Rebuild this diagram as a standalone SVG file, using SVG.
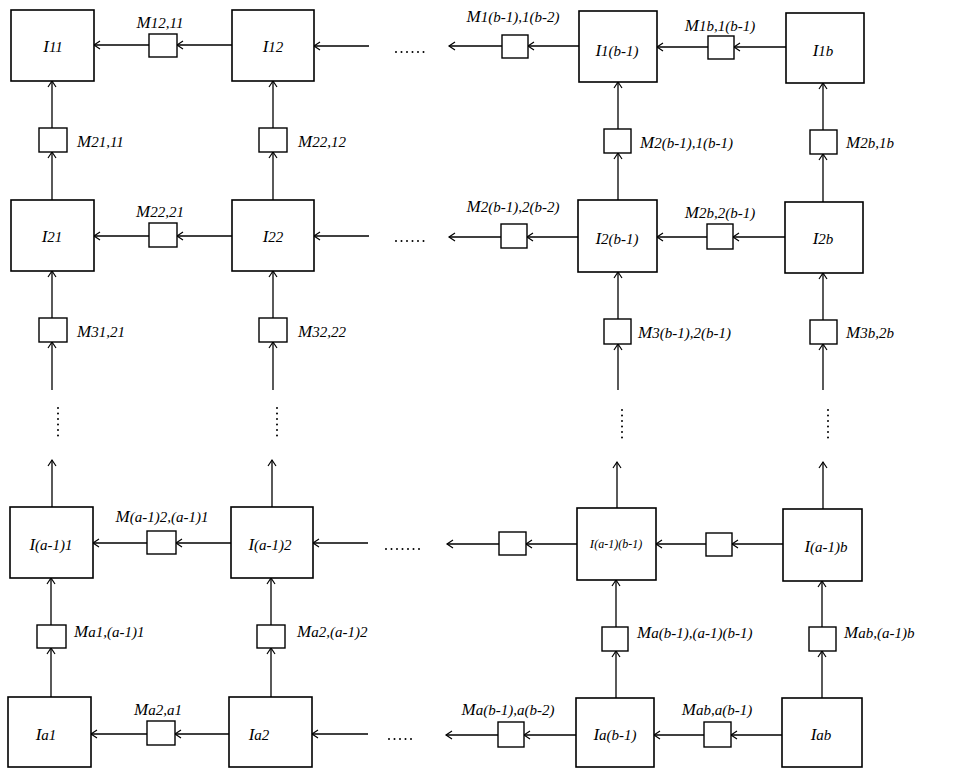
<svg xmlns="http://www.w3.org/2000/svg" width="953" height="769" viewBox="0 0 953 769">
<defs>
<marker id="arr" viewBox="-8 -5 10 10" refX="0" refY="0" markerWidth="10" markerHeight="10" markerUnits="userSpaceOnUse" orient="auto">
<path d="M-6,-4 L0,0 L-6,4" fill="none" stroke="#000" stroke-width="1.2"/>
</marker>
</defs>
<style>
.big{fill:#fff;stroke:#000;stroke-width:1.6}
.sm{fill:#fff;stroke:#000;stroke-width:1.4}
.c line{stroke:#000;stroke-width:1.3;marker-end:url(#arr)}
.c line.dot{stroke-width:2;stroke-linecap:round;stroke-dasharray:0 5.5;marker-end:none}
text{font-family:"Liberation Serif","Times New Roman",serif;font-style:italic;font-size:17px;fill:#000}
text.m{text-anchor:middle}
tspan.s{font-size:15px}
text.xs{font-size:13px}
text.xs tspan.s{font-size:12px}
</style>
<rect width="953" height="769" fill="#fff"/>
<g class="c" id="connectors">
<!-- row 1 -->
<line x1="232" y1="45" x2="177" y2="45"/>
<line x1="149" y1="45" x2="94" y2="45"/>
<line x1="369" y1="46" x2="314" y2="46"/>
<line class="dot" x1="396" y1="52" x2="424" y2="52"/>
<line x1="579" y1="46" x2="528" y2="46"/>
<line x1="502" y1="46" x2="449" y2="46"/>
<line x1="786" y1="47" x2="734" y2="47"/>
<line x1="708" y1="47" x2="657" y2="47"/>
<!-- row 2 -->
<line x1="232" y1="236" x2="177" y2="236"/>
<line x1="149" y1="236" x2="94" y2="236"/>
<line x1="369" y1="236" x2="314" y2="236"/>
<line class="dot" x1="396" y1="241" x2="424" y2="241"/>
<line x1="578" y1="237" x2="527" y2="237"/>
<line x1="501" y1="237" x2="449" y2="237"/>
<line x1="785" y1="237" x2="733" y2="237"/>
<line x1="707" y1="237" x2="657" y2="237"/>
<!-- row a-1 -->
<line x1="231" y1="543" x2="176" y2="543"/>
<line x1="147" y1="543" x2="93" y2="543"/>
<line x1="368" y1="543" x2="313" y2="543"/>
<line class="dot" x1="386" y1="549" x2="420" y2="549"/>
<line x1="577" y1="544" x2="526" y2="544"/>
<line x1="499" y1="544" x2="447" y2="544"/>
<line x1="783" y1="544" x2="732" y2="544"/>
<line x1="706" y1="544" x2="656" y2="544"/>
<!-- row a -->
<line x1="229" y1="734" x2="175" y2="734"/>
<line x1="147" y1="734" x2="91" y2="734"/>
<line x1="368" y1="734" x2="312" y2="734"/>
<line class="dot" x1="389" y1="739" x2="414" y2="739"/>
<line x1="576" y1="735" x2="524" y2="735"/>
<line x1="498" y1="735" x2="446" y2="735"/>
<line x1="782" y1="735" x2="731" y2="735"/>
<line x1="704" y1="735" x2="654" y2="735"/>
<!-- column 1 -->
<line x1="52" y1="128" x2="52" y2="81"/>
<line x1="52" y1="200" x2="52" y2="152"/>
<line x1="52" y1="318" x2="52" y2="271"/>
<line x1="52" y1="390" x2="52" y2="342"/>
<line class="dot" x1="58" y1="408" x2="58" y2="439"/>
<line x1="52" y1="507" x2="52" y2="460"/>
<line x1="51" y1="625" x2="51" y2="578"/>
<line x1="51" y1="697" x2="51" y2="648"/>
<!-- column 2 -->
<line x1="273" y1="128" x2="273" y2="81"/>
<line x1="273" y1="200" x2="273" y2="152"/>
<line x1="273" y1="318" x2="273" y2="271"/>
<line x1="273" y1="390" x2="273" y2="342"/>
<line class="dot" x1="277" y1="408" x2="277" y2="439"/>
<line x1="272" y1="507" x2="272" y2="460"/>
<line x1="271" y1="625" x2="271" y2="578"/>
<line x1="271" y1="697" x2="271" y2="648"/>
<!-- column 3 -->
<line x1="618" y1="129" x2="618" y2="82"/>
<line x1="618" y1="200" x2="618" y2="153"/>
<line x1="618" y1="319" x2="618" y2="272"/>
<line x1="618" y1="390" x2="618" y2="344"/>
<line class="dot" x1="622" y1="410" x2="622" y2="441"/>
<line x1="617" y1="508" x2="617" y2="462"/>
<line x1="616" y1="627" x2="616" y2="580"/>
<line x1="616" y1="698" x2="616" y2="651"/>
<!-- column 4 -->
<line x1="823" y1="130" x2="823" y2="83"/>
<line x1="823" y1="202" x2="823" y2="154"/>
<line x1="823" y1="320" x2="823" y2="273"/>
<line x1="823" y1="390" x2="823" y2="344"/>
<line class="dot" x1="828" y1="410" x2="828" y2="441"/>
<line x1="823" y1="509" x2="823" y2="462"/>
<line x1="822" y1="627" x2="822" y2="581"/>
<line x1="822" y1="698" x2="822" y2="651"/>
</g>
<!-- big nodes -->
<g id="I11"><rect class="big" x="11" y="10" width="83" height="71"/><text class="m" x="53" y="52">I<tspan class="s">11</tspan></text></g>
<g id="I12"><rect class="big" x="232" y="10" width="82" height="71"/><text class="m" x="273" y="52">I<tspan class="s">12</tspan></text></g>
<g id="I1b-1"><rect class="big" x="579" y="11" width="78" height="71"/><text class="m" x="617" y="56">I<tspan class="s">1(b-1)</tspan></text></g>
<g id="I1b"><rect class="big" x="786" y="13" width="78" height="70"/><text class="m" x="823" y="56">I<tspan class="s">1b</tspan></text></g>
<g id="I21"><rect class="big" x="11" y="200" width="83" height="71"/><text class="m" x="52" y="242">I<tspan class="s">21</tspan></text></g>
<g id="I22"><rect class="big" x="232" y="200" width="82" height="71"/><text class="m" x="273" y="242">I<tspan class="s">22</tspan></text></g>
<g id="I2b-1"><rect class="big" x="578" y="200" width="79" height="72"/><text class="m" x="617" y="244">I<tspan class="s">2(b-1)</tspan></text></g>
<g id="I2b"><rect class="big" x="785" y="202" width="78" height="71"/><text class="m" x="823" y="244">I<tspan class="s">2b</tspan></text></g>
<g id="Ia-1_1"><rect class="big" x="10" y="507" width="83" height="71"/><text class="m" x="51" y="550">I<tspan class="s">(a-1)1</tspan></text></g>
<g id="Ia-1_2"><rect class="big" x="231" y="507" width="82" height="71"/><text class="m" x="270" y="550">I<tspan class="s">(a-1)2</tspan></text></g>
<g id="Ia-1_b-1"><rect class="big" x="577" y="508" width="79" height="72"/><text class="m xs" x="616" y="548">I<tspan class="s">(a-1)(b-1)</tspan></text></g>
<g id="Ia-1_b"><rect class="big" x="783" y="509" width="79" height="72"/><text class="m" x="826" y="552">I<tspan class="s">(a-1)b</tspan></text></g>
<g id="Ia1"><rect class="big" x="8" y="697" width="83" height="70"/><text class="m" x="46" y="740">I<tspan class="s">a1</tspan></text></g>
<g id="Ia2"><rect class="big" x="229" y="697" width="83" height="70"/><text class="m" x="259" y="740">I<tspan class="s">a2</tspan></text></g>
<g id="Iab-1"><rect class="big" x="576" y="698" width="78" height="69"/><text class="m" x="615" y="740">I<tspan class="s">a(b-1)</tspan></text></g>
<g id="Iab"><rect class="big" x="782" y="698" width="80" height="69"/><text class="m" x="821" y="740">I<tspan class="s">ab</tspan></text></g>
<!-- small M nodes, horizontal -->
<g id="M12_11"><rect class="sm" x="149" y="34" width="28" height="23"/><text class="m" x="160" y="28">M<tspan class="s">12,11</tspan></text></g>
<g id="M1b-1_1b-2"><rect class="sm" x="502" y="35" width="26" height="23"/><text class="m" x="513" y="22">M<tspan class="s">1(b-1),1(b-2)</tspan></text></g>
<g id="M1b_1b-1"><rect class="sm" x="708" y="36" width="26" height="23"/><text class="m" x="720" y="31">M<tspan class="s">1b,1(b-1)</tspan></text></g>
<g id="M22_21"><rect class="sm" x="149" y="223" width="28" height="24"/><text class="m" x="160" y="217">M<tspan class="s">22,21</tspan></text></g>
<g id="M2b-1_2b-2"><rect class="sm" x="501" y="224" width="26" height="24"/><text class="m" x="513" y="212">M<tspan class="s">2(b-1),2(b-2)</tspan></text></g>
<g id="M2b_2b-1"><rect class="sm" x="707" y="224" width="26" height="25"/><text class="m" x="720" y="218">M<tspan class="s">2b,2(b-1)</tspan></text></g>
<g id="Ma-1_2_a-1_1"><rect class="sm" x="147" y="531" width="29" height="23"/><text class="m" x="162" y="522">M<tspan class="s">(a-1)2,(a-1)1</tspan></text></g>
<g id="Mrow_a-1_left"><rect class="sm" x="499" y="532" width="27" height="23"/></g>
<g id="Mrow_a-1_right"><rect class="sm" x="706" y="533" width="26" height="23"/></g>
<g id="Ma2_a1"><rect class="sm" x="147" y="721" width="28" height="24"/><text class="m" x="158" y="715">M<tspan class="s">a2,a1</tspan></text></g>
<g id="Mab-1_ab-2"><rect class="sm" x="498" y="722" width="26" height="25"/><text class="m" x="508" y="715">M<tspan class="s">a(b-1),a(b-2)</tspan></text></g>
<g id="Mab_ab-1"><rect class="sm" x="704" y="722" width="27" height="25"/><text class="m" x="717" y="715">M<tspan class="s">ab,a(b-1)</tspan></text></g>
<!-- small M nodes, vertical -->
<g id="M21_11"><rect class="sm" x="39" y="128" width="28" height="24"/><text x="77" y="147">M<tspan class="s">21,11</tspan></text></g>
<g id="M22_12"><rect class="sm" x="259" y="128" width="28" height="24"/><text x="298" y="147">M<tspan class="s">22,12</tspan></text></g>
<g id="M2b-1_1b-1"><rect class="sm" x="604" y="129" width="27" height="24"/><text x="640" y="148">M<tspan class="s">2(b-1),1(b-1)</tspan></text></g>
<g id="M2b_1b"><rect class="sm" x="810" y="130" width="27" height="24"/><text x="846" y="148">M<tspan class="s">2b,1b</tspan></text></g>
<g id="M31_21"><rect class="sm" x="39" y="318" width="28" height="24"/><text x="77" y="337">M<tspan class="s">31,21</tspan></text></g>
<g id="M32_22"><rect class="sm" x="259" y="318" width="28" height="24"/><text x="298" y="337">M<tspan class="s">32,22</tspan></text></g>
<g id="M3b-1_2b-1"><rect class="sm" x="604" y="319" width="27" height="25"/><text x="638" y="338">M<tspan class="s">3(b-1),2(b-1)</tspan></text></g>
<g id="M3b_2b"><rect class="sm" x="810" y="320" width="27" height="24"/><text x="846" y="338">M<tspan class="s">3b,2b</tspan></text></g>
<g id="Ma1_a-1_1"><rect class="sm" x="37" y="625" width="29" height="23"/><text x="74" y="637">M<tspan class="s">a1,(a-1)1</tspan></text></g>
<g id="Ma2_a-1_2"><rect class="sm" x="257" y="625" width="28" height="23"/><text x="297" y="637">M<tspan class="s">a2,(a-1)2</tspan></text></g>
<g id="Mab-1_a-1b-1"><rect class="sm" x="602" y="627" width="26" height="24"/><text x="637" y="638">M<tspan class="s">a(b-1),(a-1)(b-1)</tspan></text></g>
<g id="Mab_a-1b"><rect class="sm" x="809" y="627" width="27" height="24"/><text x="844" y="638">M<tspan class="s">ab,(a-1)b</tspan></text></g>
</svg>
